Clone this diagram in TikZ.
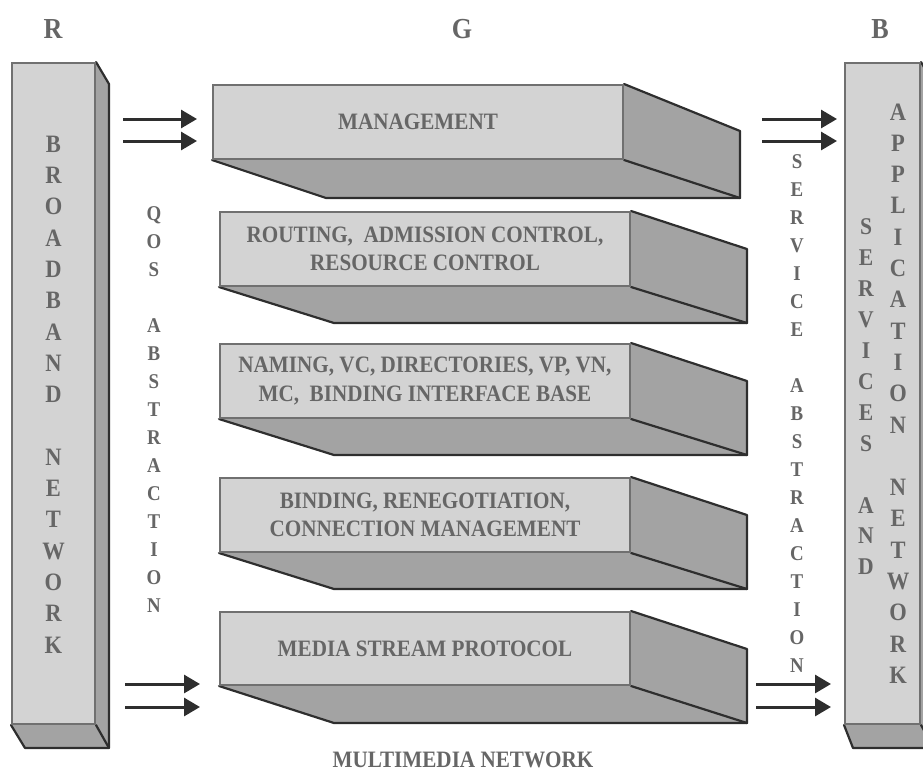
\documentclass[tikz,border=0pt]{standalone}
\usepackage{fontspec}
\setmainfont{Liberation Serif}[FakeStretch=0.9]
\usetikzlibrary{arrows.meta,calc,backgrounds}
\definecolor{frontgray}{HTML}{D3D3D3}
\definecolor{sidegray}{HTML}{A3A3A3}
\definecolor{edgegray}{HTML}{707070}
\definecolor{darkedge}{HTML}{2E2E2E}
\definecolor{txtgray}{HTML}{666666}
% #1 node, #2 drop of side top, #3 drop of bottom below front, #4 x offset of bottom-left corner, #5 side depth
\newcommand\drawslab[5]{%
  \begin{pgfonlayer}{background}
    \fill[sidegray] (#1.north east) -- ++(#5,#2) coordinate (#1-p1)
      -- ($(#1.south east)+(#5,#3)$) coordinate (#1-p2)
      -- ($(#1.south west)+(#4,#3)$) coordinate (#1-q1)
      -- (#1.south west) -- (#1.south east) -- cycle;
    \draw[darkline] (#1.north east) -- (#1-p1) -- (#1-p2) -- (#1-q1) -- (#1.south west);
    \draw[darkline] (#1.south east) -- (#1-p2);
  \end{pgfonlayer}}
\begin{document}
\begin{tikzpicture}[x=1pt,y=-1pt,
  face/.style={fill=frontgray,draw=edgegray,line width=2pt,inner sep=0pt},
  darkline/.style={draw=darkedge,line width=2.2pt,line join=round,line cap=round},
  boxtxt/.style={text=txtgray,font=\bfseries\fontsize{23.5}{28.5}\selectfont,align=center},
  bartxt/.style={text=txtgray,font=\bfseries\fontsize{25}{31.3}\selectfont,align=center,inner sep=0pt},
  abstxt/.style={text=txtgray,font=\bfseries\fontsize{21}{28}\selectfont,align=center,inner sep=0pt},
  svtxt/.style={text=txtgray,font=\bfseries\fontsize{24}{30.9}\selectfont,align=center,inner sep=0pt},
  ttl/.style={text=txtgray,font=\bfseries\fontsize{29}{32}\selectfont,inner sep=0pt},
  flow/.style={draw=darkedge,line width=3pt,-{Triangle[length=16pt,width=18pt]}}
]
\useasboundingbox (0,0) rectangle (923,772);
\clip (0,0) rectangle (923,772);

% titles
\node[ttl] (tr) at (53,29) {R};
\node[ttl] (tg) at (462,29) {G};
\node[ttl] (tb) at (880,29) {B};

% left bar
\node[face,minimum width=83pt,minimum height=661pt] (lbar) at (53.5,393.5) {};
\drawslab{lbar}{22}{23}{14}{13}
\node[bartxt] (bbn) at (53.5,394.5) {B\\R\\O\\A\\D\\B\\A\\N\\D\\~\\N\\E\\T\\W\\O\\R\\K};

% right bar
\node[face,minimum width=75pt,minimum height=661pt] (rbar) at (882.5,393.5) {};
\drawslab{rbar}{22}{23}{9}{13}
\node[svtxt] (sand) at (866,397) {S\\E\\R\\V\\I\\C\\E\\S\\~\\A\\N\\D};
\node[bartxt] (appn) at (898,393.5) {A\\P\\P\\L\\I\\C\\A\\T\\I\\O\\N\\~\\N\\E\\T\\W\\O\\R\\K};

% layers
\node[face,boxtxt,minimum width=410pt,minimum height=74pt] (mgmt) at (418,122) {MANAGEMENT};
\drawslab{mgmt}{47}{38}{114}{116}
\node[face,boxtxt,minimum width=410pt,minimum height=74pt] (rout) at (425,249) {ROUTING,~ ADMISSION CONTROL,\\RESOURCE CONTROL};
\drawslab{rout}{38}{36}{115}{116}
\node[face,boxtxt,minimum width=410pt,minimum height=74pt] (nami) at (425,381) {NAMING, VC, DIRECTORIES, VP, VN,\\MC,~ BINDING INTERFACE BASE};
\drawslab{nami}{38}{36}{115}{116}
\node[face,boxtxt,minimum width=410pt,minimum height=74pt] (bind) at (425,515) {BINDING, RENEGOTIATION,\\CONNECTION MANAGEMENT};
\drawslab{bind}{38}{36}{115}{116}
\node[face,boxtxt,minimum width=410pt,minimum height=73pt] (msp) at (425,648.5) {MEDIA STREAM PROTOCOL};
\drawslab{msp}{38}{37}{115}{116}

% abstraction labels
\node[abstxt] (qos) at (154,410) {Q\\O\\S\\~\\A\\B\\S\\T\\R\\A\\C\\T\\I\\O\\N};
\node[abstxt] (sabs) at (797,414) {S\\E\\R\\V\\I\\C\\E\\~\\A\\B\\S\\T\\R\\A\\C\\T\\I\\O\\N};

\node[boxtxt,inner sep=0pt] (mmn) at (463,760) {MULTIMEDIA NETWORK};

% arrows
\coordinate (la1s) at (123,119); \coordinate (la1e) at (197,119);
\coordinate (la2s) at (123,141); \coordinate (la2e) at (197,141);
\coordinate (ra1s) at (762,119); \coordinate (ra1e) at (837,119);
\coordinate (ra2s) at (762,141); \coordinate (ra2e) at (837,141);
\coordinate (lb1s) at (125,684); \coordinate (lb1e) at (200,684);
\coordinate (lb2s) at (125,707); \coordinate (lb2e) at (200,707);
\coordinate (rb1s) at (756,684); \coordinate (rb1e) at (831,684);
\coordinate (rb2s) at (756,707); \coordinate (rb2e) at (831,707);
\draw[flow] (la1s) -- (la1e);
\draw[flow] (la2s) -- (la2e);
\draw[flow] (ra1s) -- (ra1e);
\draw[flow] (ra2s) -- (ra2e);
\draw[flow] (lb1s) -- (lb1e);
\draw[flow] (lb2s) -- (lb2e);
\draw[flow] (rb1s) -- (rb1e);
\draw[flow] (rb2s) -- (rb2e);
\end{tikzpicture}
\end{document}
